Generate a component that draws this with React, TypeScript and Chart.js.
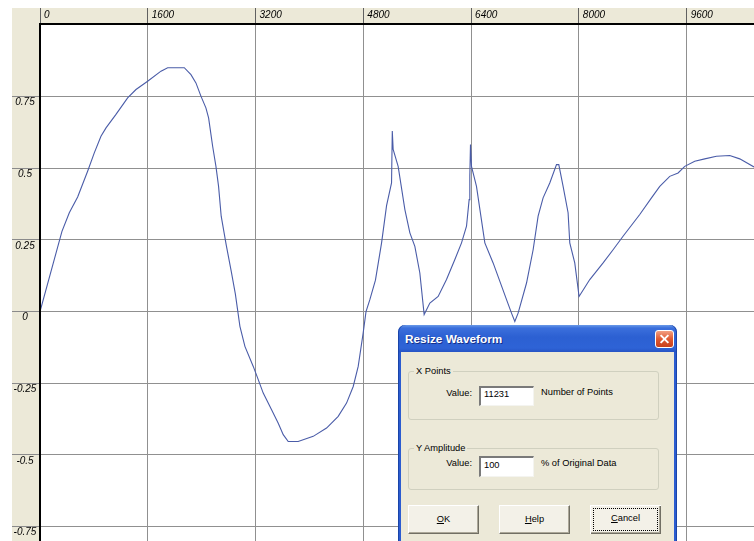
import React, { useEffect, useRef } from 'react';
import { Chart, registerables } from 'chart.js';

Chart.register(...registerables);

// ---- data (sample index vs. amplitude) ----
const sampleIndex = [
  0, 326, 435, 559, 707, 806, 905, 980, 1128, 1301, 1425, 1598, 1796, 1895, 2142, 2241,
  2315, 2389, 2463, 2503, 2563, 2612, 2651, 2690, 2765, 2840, 2900, 2968, 3042, 3166,
  3240, 3314, 3438, 3537, 3611, 3685, 3833, 4056, 4254, 4427, 4551, 4650, 4724, 4798,
  4840, 4897, 4980, 5071, 5145, 5219, 5230, 5243, 5317, 5417, 5491, 5565, 5639, 5703,
  5788, 5911, 6035, 6159, 6258, 6332, 6371, 6381, 6391, 6406, 6480, 6604, 6727, 6926,
  7000, 7049, 7098, 7223, 7321, 7395, 7469, 7568, 7668, 7702, 7766, 7840, 7865, 7939,
  8003, 8113, 8162, 8360, 8508, 8656, 8904, 9078, 9201, 9349, 9473, 9572, 9720, 9869,
  10042, 10240, 10388, 10600,
];
const amplitude = [
  0, 0.28, 0.345, 0.4, 0.49, 0.554, 0.612, 0.641, 0.688, 0.746, 0.775, 0.804, 0.839, 0.851, 0.851, 0.827,
  0.798, 0.752, 0.711, 0.676, 0.577, 0.507, 0.437, 0.333, 0.232, 0.14, 0.062, -0.051, -0.121, -0.191,
  -0.237, -0.284, -0.342, -0.389, -0.429, -0.453, -0.453, -0.435, -0.406, -0.365, -0.319, -0.261, -0.191, -0.074,
  0.0, 0.042, 0.11, 0.24, 0.37, 0.449, 0.63, 0.566, 0.507, 0.356, 0.275, 0.228, 0.135, -0.01,
  0.03, 0.053, 0.112, 0.182, 0.24, 0.298, 0.391, 0.472, 0.583, 0.507, 0.437, 0.24, 0.17, 0.042,
  -0.005, -0.034, -0.005, 0.1, 0.216, 0.333, 0.397, 0.449, 0.513, 0.513, 0.437, 0.345, 0.24, 0.17,
  0.053, 0.094, 0.112, 0.17, 0.216, 0.263, 0.339, 0.397, 0.437, 0.472, 0.484, 0.507, 0.525, 0.533,
  0.542, 0.545, 0.533, 0.505,
];
const xTickValues = [0, 1600, 3200, 4800, 6400, 8000, 9600];
const yTickValues = [-0.75, -0.5, -0.25, 0, 0.25, 0.5, 0.75];
const xRange = [0, 10600];
const yRange = [-0.8, 1.0];

const BAND = '#ECE9D8';
const UI_FONT = '"Liberation Sans", Arial, sans-serif';

const bandPlugin = {
  id: 'bands',
  beforeDraw(chart: any) {
    const { ctx, chartArea: ca, width, height } = chart;
    ctx.save();
    ctx.fillStyle = '#ffffff';
    ctx.fillRect(0, 0, width, height);
    ctx.fillStyle = BAND;
    ctx.fillRect(0, 0, width, ca.top);
    ctx.fillRect(0, 0, ca.left, height);
    ctx.restore();
  },
  afterDraw(chart: any) {
    const { ctx, chartArea: ca, width, height } = chart;
    ctx.save();
    ctx.fillStyle = '#000000';
    ctx.fillRect(ca.left - 1, ca.top - 2, width - ca.left + 1, 2);
    ctx.fillRect(ca.left - 1, ca.top - 2, 2, height - ca.top + 2);
    ctx.restore();
  },
};

function WaveChart() {
  const ref = useRef<HTMLCanvasElement>(null);
  useEffect(() => {
    const canvas = ref.current;
    if (!canvas) return;
    const points = sampleIndex.map((x, i) => ({ x, y: amplitude[i] }));
    const tickFont = { family: UI_FONT, size: 10, style: 'italic' as const };
    const chart = new Chart(canvas, {
      type: 'line',
      data: {
        datasets: [
          {
            data: points,
            borderColor: '#4a5ca8',
            borderWidth: 1.1,
            pointRadius: 0,
            tension: 0,
            fill: false,
          },
        ],
      },
      options: {
        animation: false,
        responsive: false,
        maintainAspectRatio: false,
        devicePixelRatio: 1,
        events: [],
        layout: { padding: 0 },
        plugins: { legend: { display: false }, tooltip: { enabled: false } },
        scales: {
          x: {
            type: 'linear',
            position: 'top',
            min: xRange[0],
            max: xRange[1],
            afterBuildTicks: (s: any) => {
              s.ticks = xTickValues.map((v) => ({ value: v }));
            },
            afterFit: (s: any) => {
              s.height = 17;
              s.paddingLeft = 0;
              s.paddingRight = 0;
            },
            grid: { color: '#909090', lineWidth: 1, drawTicks: true, tickLength: 17, tickColor: '#606060' },
            border: { display: false },
            ticks: {
              autoSkip: false,
              maxRotation: 0,
              align: 'start',
              labelOffset: 4,
              padding: -13,
              color: '#000',
              font: tickFont,
              callback: (v: any) => String(v),
            },
          },
          y: {
            type: 'linear',
            position: 'left',
            min: yRange[0],
            max: yRange[1],
            afterBuildTicks: (s: any) => {
              s.ticks = yTickValues.map((v) => ({ value: v }));
            },
            afterFit: (s: any) => {
              s.width = 28;
              s.paddingTop = 0;
              s.paddingBottom = 0;
            },
            grid: { color: '#909090', lineWidth: 1, drawTicks: true, tickLength: 28, tickColor: '#8a8a8a' },
            border: { display: false },
            ticks: {
              autoSkip: false,
              crossAlign: 'center',
              padding: -24.4,
              labelOffset: 6,
              color: '#000',
              font: tickFont,
              callback: (v: any) => String(v),
            },
          },
        },
      },
      plugins: [bandPlugin],
    } as any);
    return () => chart.destroy();
  }, []);
  return (
    <canvas
      ref={ref}
      width={742}
      height={533}
      style={{ position: 'absolute', left: 12, top: 8, width: 742, height: 533 }}
    />
  );
}

const abs = (l: number, t: number, w: number, h: number): React.CSSProperties => ({
  position: 'absolute',
  left: l,
  top: t,
  width: w,
  height: h,
  boxSizing: 'border-box',
});

const txt: React.CSSProperties = {
  fontFamily: UI_FONT,
  fontSize: 9.3,
  color: '#000',
  whiteSpace: 'nowrap',
};

function Button({ l, w, children, focused }: { l: number; w: number; children: React.ReactNode; focused?: boolean }) {
  return (
    <div
      style={{
        ...abs(l, 505, w, 29),
        ...txt,
        background: '#F3F1E8',
        border: focused ? '1px solid #000' : undefined,
        borderTop: focused ? undefined : '1px solid #ffffff',
        borderLeft: focused ? undefined : '1px solid #ffffff',
        borderRight: focused ? undefined : '1px solid #716f64',
        borderBottom: focused ? undefined : '1px solid #716f64',
        boxShadow: focused
          ? 'inset 1px 1px 0 #fff, inset -1px -1px 0 #716f64, inset -2px -2px 0 #aca899'
          : 'inset -1px -1px 0 #aca899',
        textAlign: 'center',
        lineHeight: '27px',
      }}
    >
      {children}
      {focused ? (
        <div style={{ position: 'absolute', left: 3, top: 3, right: 3, bottom: 3, border: '1px dotted #000' }} />
      ) : null}
    </div>
  );
}

function Dialog() {
  return (
    <>
      {/* window frame and title bar */}
      <div
        style={{
          ...abs(398, 325, 279, 230),
          borderRadius: '7px 7px 0 0',
          background:
            'linear-gradient(to bottom, #6a9ae8 0px, #3b6fdc 3px, #2c60d2 12px, #2e63d6 23px, #2654c4 27px, #2b5cd0 28px, #2b5cd0 100%)',
          boxShadow: 'inset 1px 0 0 #1a44a8, inset -1px 0 0 #1a44a8',
        }}
      />
      <div style={{ ...abs(401, 352, 273, 200), background: BAND }} />
      <div
        style={{
          ...abs(405, 330, 200, 18),
          fontFamily: UI_FONT,
          fontWeight: 'bold',
          fontSize: 11.8,
          lineHeight: '18px',
          color: '#fff',
          textShadow: '1px 1px 0 #15308a',
          whiteSpace: 'nowrap',
        }}
      >
        Resize Waveform
      </div>
      {/* close button */}
      <div
        style={{
          ...abs(655, 330, 19, 18),
          borderRadius: 3,
          border: '1px solid #fff',
          background: 'linear-gradient(to bottom, #f3a083, #df5a33 50%, #c8401c)',
        }}
      >
        <div style={{ position: 'absolute', left: 3, top: 7, width: 11, height: 2, background: '#fff', transform: 'rotate(45deg)' }} />
        <div style={{ position: 'absolute', left: 3, top: 7, width: 11, height: 2, background: '#fff', transform: 'rotate(-45deg)' }} />
      </div>

      {/* X Points group */}
      <div style={{ ...abs(408, 371, 251, 49), border: '1px solid #D0D0BF', borderRadius: 3 }} />
      <div style={{ ...txt, position: 'absolute', left: 414, top: 365, lineHeight: '12px', padding: '0 2px', background: BAND }}>
        X Points
      </div>
      <div style={{ ...txt, ...abs(420, 387, 52, 12), textAlign: 'right', lineHeight: '12px' }}>Value:</div>
      <div
        style={{
          ...abs(479, 386, 55, 20),
          background: '#fff',
          borderTop: '2px solid #7a7a7a',
          borderLeft: '2px solid #7a7a7a',
          borderRight: '1px solid #f4f4f0',
          borderBottom: '1px solid #f4f4f0',
        }}
      >
        <div style={{ ...txt, paddingLeft: 3, lineHeight: '13px' }}>11231</div>
      </div>
      <div style={{ ...txt, ...abs(541, 386, 110, 12), lineHeight: '12px' }}>Number of Points</div>

      {/* Y Amplitude group */}
      <div style={{ ...abs(408, 448, 251, 42), border: '1px solid #D0D0BF', borderRadius: 3 }} />
      <div style={{ ...txt, position: 'absolute', left: 414, top: 442, lineHeight: '12px', padding: '0 2px', background: BAND }}>
        Y Amplitude
      </div>
      <div style={{ ...txt, ...abs(420, 457, 52, 12), textAlign: 'right', lineHeight: '12px' }}>Value:</div>
      <div
        style={{
          ...abs(479, 456, 55, 21),
          background: '#fff',
          borderTop: '2px solid #7a7a7a',
          borderLeft: '2px solid #7a7a7a',
          borderRight: '1px solid #f4f4f0',
          borderBottom: '1px solid #f4f4f0',
        }}
      >
        <div style={{ ...txt, paddingLeft: 3, lineHeight: '14px' }}>100</div>
      </div>
      <div style={{ ...txt, ...abs(541, 457, 120, 12), lineHeight: '12px' }}>% of Original Data</div>

      {/* buttons */}
      <Button l={408} w={71}>
        <u>O</u>K
      </Button>
      <Button l={499} w={71}>
        <u>H</u>elp
      </Button>
      <Button l={590} w={71} focused>
        <u>C</u>ancel
      </Button>
    </>
  );
}

export default function App() {
  return (
    <div
      style={{
        position: 'fixed',
        left: 0,
        top: 0,
        width: 754,
        height: 541,
        background: '#fff',
        overflow: 'hidden',
      }}
    >
      <WaveChart />
      <Dialog />
    </div>
  );
}
